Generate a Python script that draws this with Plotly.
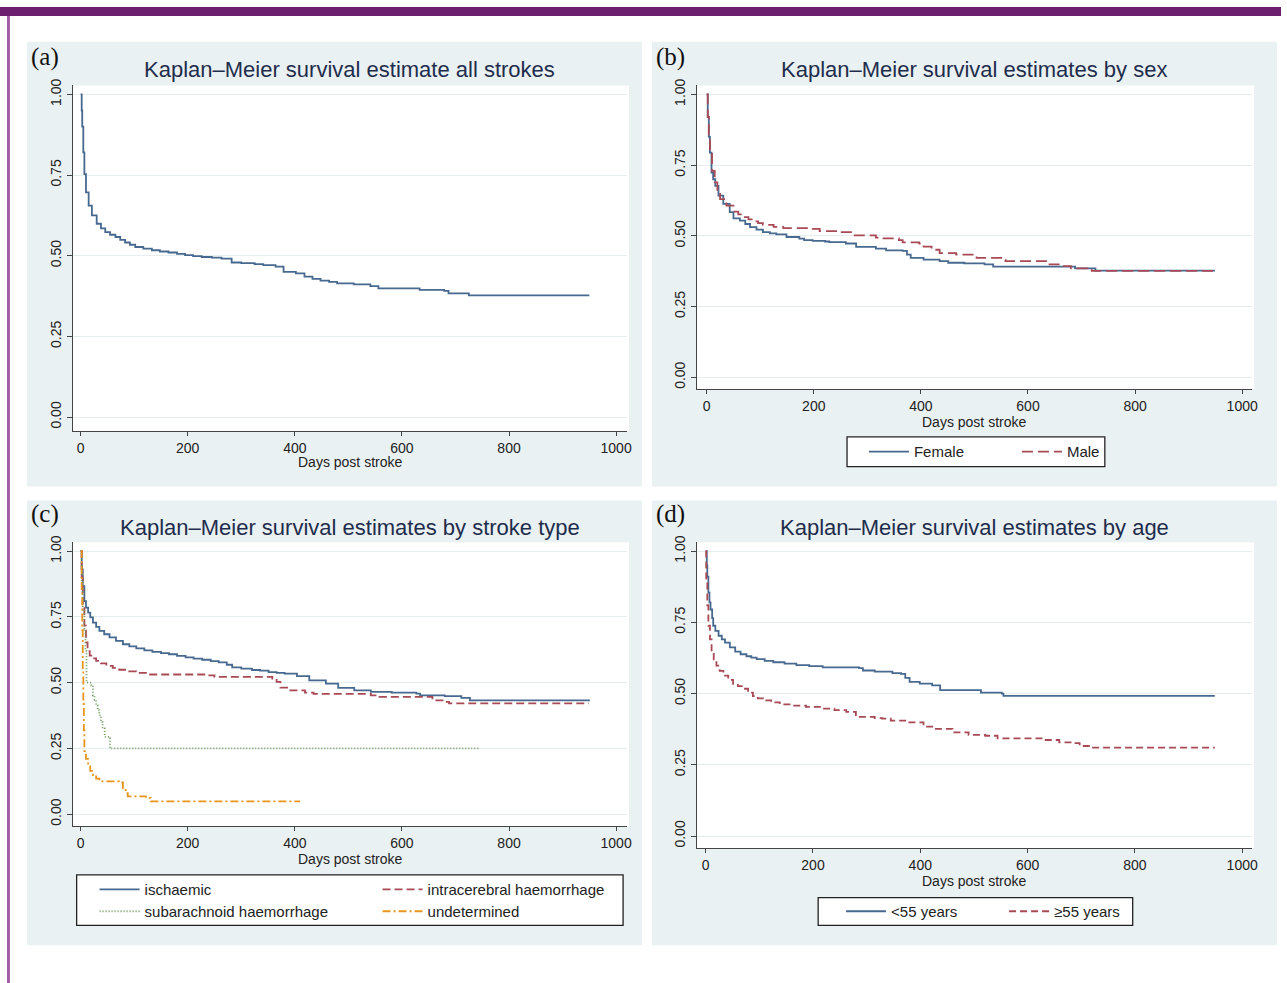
import plotly.graph_objects as go

W, H = 1287, 983

# ---------------- data (days, survival) ----------------
all_days = [0, 2, 3, 5, 7, 10, 15, 21, 30, 38, 46, 55, 65, 74, 83, 92, 102, 117, 133, 148, 164, 180, 195, 210, 226, 245, 263, 282, 300, 325, 341, 364, 379, 402, 418, 433, 448, 464, 479, 510, 541, 556, 625, 633, 679, 687, 718, 725, 950]
all_surv = [1.0, 0.95, 0.90, 0.82, 0.753, 0.696, 0.655, 0.625, 0.599, 0.585, 0.573, 0.565, 0.558, 0.549, 0.541, 0.534, 0.527, 0.522, 0.517, 0.513, 0.510, 0.506, 0.502, 0.499, 0.496, 0.494, 0.491, 0.479, 0.477, 0.474, 0.471, 0.466, 0.450, 0.445, 0.435, 0.428, 0.423, 0.419, 0.414, 0.411, 0.406, 0.399, 0.399, 0.394, 0.391, 0.383, 0.383, 0.377, 0.377]

female_days = [0, 2, 4, 6, 9, 12, 16, 22, 31, 43, 50, 62, 72, 81, 93, 105, 118, 130, 149, 173, 182, 198, 221, 229, 260, 279, 316, 335, 366, 374, 381, 405, 435, 451, 481, 519, 535, 672, 688, 718, 726, 949]
female_surv = [1.0, 0.92, 0.85, 0.794, 0.724, 0.70, 0.677, 0.642, 0.613, 0.584, 0.562, 0.554, 0.542, 0.531, 0.522, 0.513, 0.509, 0.505, 0.496, 0.490, 0.485, 0.482, 0.480, 0.478, 0.473, 0.461, 0.455, 0.449, 0.447, 0.434, 0.422, 0.416, 0.411, 0.405, 0.403, 0.399, 0.391, 0.391, 0.385, 0.385, 0.377, 0.377]

male_days = [0, 2, 4, 6, 10, 15, 20, 25, 37, 50, 59, 68, 78, 87, 96, 105, 125, 143, 198, 211, 248, 273, 316, 328, 359, 366, 397, 405, 420, 435, 466, 504, 550, 558, 627, 634, 665, 680, 711, 719, 949]
male_surv = [1.0, 0.92, 0.85, 0.79, 0.73, 0.689, 0.655, 0.63, 0.607, 0.586, 0.576, 0.566, 0.558, 0.551, 0.545, 0.539, 0.532, 0.527, 0.525, 0.517, 0.513, 0.502, 0.494, 0.491, 0.485, 0.477, 0.473, 0.462, 0.451, 0.439, 0.434, 0.422, 0.416, 0.411, 0.411, 0.399, 0.393, 0.385, 0.380, 0.376, 0.376]

isch_days = [0, 2, 4, 7, 10, 14, 18, 23, 29, 35, 44, 54, 66, 79, 91, 104, 119, 134, 150, 165, 180, 196, 211, 227, 243, 258, 273, 283, 300, 320, 335, 351, 366, 381, 404, 427, 458, 481, 511, 542, 581, 627, 634, 680, 711, 727, 951]
isch_surv = [1.0, 0.93, 0.867, 0.81, 0.785, 0.766, 0.748, 0.728, 0.712, 0.697, 0.684, 0.672, 0.659, 0.646, 0.638, 0.630, 0.623, 0.617, 0.612, 0.608, 0.602, 0.596, 0.591, 0.587, 0.582, 0.577, 0.568, 0.558, 0.553, 0.548, 0.546, 0.540, 0.537, 0.534, 0.525, 0.509, 0.496, 0.480, 0.471, 0.465, 0.462, 0.458, 0.452, 0.449, 0.442, 0.433, 0.433]

ich_days = [0, 2, 4, 7, 10, 13, 17, 22, 29, 38, 48, 60, 72, 88, 104, 128, 235, 250, 343, 358, 366, 373, 389, 419, 435, 527, 542, 558, 650, 657, 680, 688, 949]
ich_surv = [1.0, 0.90, 0.80, 0.717, 0.653, 0.62, 0.603, 0.592, 0.583, 0.573, 0.564, 0.556, 0.549, 0.543, 0.537, 0.531, 0.528, 0.522, 0.522, 0.515, 0.503, 0.481, 0.471, 0.462, 0.457, 0.457, 0.452, 0.446, 0.446, 0.433, 0.427, 0.421, 0.421]

sah_days = [0, 2, 4, 7, 9, 11, 20, 23, 26, 29, 32, 35, 38, 41, 45, 53, 55, 746]
sah_surv = [1.0, 0.88, 0.778, 0.703, 0.62, 0.50, 0.49, 0.452, 0.435, 0.413, 0.395, 0.376, 0.35, 0.326, 0.294, 0.288, 0.250, 0.250]

und_days = [0, 2, 3, 4, 5, 6, 7, 10, 14, 18, 23, 29, 35, 72, 79, 84, 88, 122, 131, 410]
und_surv = [1.0, 0.85, 0.70, 0.55, 0.42, 0.32, 0.24, 0.21, 0.187, 0.165, 0.149, 0.135, 0.125, 0.121, 0.099, 0.08, 0.068, 0.062, 0.049, 0.049]

young_days = [0, 2, 3, 5, 7, 9, 12, 14, 18, 24, 30, 36, 45, 55, 65, 76, 85, 95, 110, 126, 147, 169, 193, 218, 286, 293, 315, 348, 364, 372, 380, 399, 422, 437, 506, 513, 552, 555, 949]
young_surv = [1.0, 0.95, 0.91, 0.854, 0.82, 0.795, 0.765, 0.738, 0.72, 0.703, 0.69, 0.679, 0.662, 0.647, 0.638, 0.631, 0.626, 0.621, 0.615, 0.610, 0.605, 0.600, 0.596, 0.592, 0.589, 0.581, 0.577, 0.572, 0.569, 0.555, 0.541, 0.535, 0.529, 0.512, 0.512, 0.503, 0.500, 0.492, 0.492]

old_days = [0, 1, 3, 5, 8, 11, 15, 20, 26, 33, 42, 51, 60, 70, 79, 88, 97, 107, 122, 138, 162, 187, 218, 240, 262, 280, 315, 329, 345, 376, 406, 429, 460, 490, 521, 544, 605, 628, 659, 682, 697, 720, 949]
old_surv = [1.0, 0.90, 0.81, 0.738, 0.69, 0.645, 0.62, 0.598, 0.58, 0.563, 0.548, 0.534, 0.526, 0.517, 0.503, 0.491, 0.483, 0.476, 0.469, 0.462, 0.458, 0.453, 0.447, 0.442, 0.436, 0.418, 0.414, 0.412, 0.405, 0.399, 0.384, 0.376, 0.364, 0.355, 0.352, 0.343, 0.343, 0.337, 0.329, 0.326, 0.316, 0.310, 0.310]

x_ticks = [0, 200, 400, 600, 800, 1000]
y_ticks = [0.0, 0.25, 0.5, 0.75, 1.0]

panel_titles = ["Kaplan–Meier survival estimate all strokes",
                "Kaplan–Meier survival estimates by sex",
                "Kaplan–Meier survival estimates by stroke type",
                "Kaplan–Meier survival estimates by age"]
panel_letters = ["(a)", "(b)", "(c)", "(d)"]
x_title = "Days post stroke"

# ---------------- styling ----------------
BLUE = "#48698f"
RED = "#a84a56"
GREEN = "#6d9a5c"
ORANGE = "#e8951f"
PANEL_BG = "#eaf1f3"
GRID = "#e6edef"
AXIS = "#444444"
TXT = "#222222"
TITLE_C = "#1f2d4d"
TICKFONT = dict(family="Liberation Sans Narrow, Arial Narrow, Liberation Sans, Arial", size=14, color=TXT)


def px(x):
    return x / W


def py(y):
    return 1 - y / H


panels = [
    dict(box=(27, 35, 645, 483), ax=(73, 630), ay=(79, 427), x0=81, x1000=619, y1=88, y0=413),
    dict(box=(655, 35, 1283, 483), ax=(700, 1258), ay=(79, 385), x0=710, x1000=1248, y1=88, y0=373),
    dict(box=(27, 497, 645, 945), ax=(73, 630), ay=(539, 825), x0=81, x1000=619, y1=548, y0=813),
    dict(box=(655, 497, 1283, 945), ax=(700, 1258), ay=(539, 847), x0=709, x1000=1248, y1=548, y0=835),
]

fig = go.Figure()

shapes = []
annotations = []
shapes.append(dict(type="rect", xref="paper", yref="paper", x0=0, x1=1, y0=py(9), y1=1,
                   fillcolor="#6b1f6e", line=dict(width=0), layer="below"))
shapes.append(dict(type="rect", xref="paper", yref="paper", x0=px(7), x1=px(10), y0=0, y1=py(9),
                   fillcolor="#a25ea3", line=dict(width=0), layer="below"))

for i, p in enumerate(panels):
    bx0, by0, bx1, by1 = p["box"]
    shapes.append(dict(type="rect", xref="paper", yref="paper", x0=px(bx0), x1=px(bx1),
                       y0=py(by1), y1=py(by0), fillcolor=PANEL_BG, line=dict(width=0), layer="below"))
    ax0, ax1 = p["ax"]
    ay0, ay1 = p["ay"]
    shapes.append(dict(type="rect", xref="paper", yref="paper", x0=px(ax0), x1=px(ax1 + 2),
                       y0=py(ay1), y1=py(ay0), fillcolor="white", line=dict(width=0), layer="below"))
    sx = (p["x1000"] - p["x0"]) / 1000.0
    xr = [-(p["x0"] - ax0) / sx, (ax1 - p["x0"]) / sx]
    sy = (p["y0"] - p["y1"])
    yr = [-(ay1 - p["y0"]) / sy, 1 + (p["y1"] - ay0) / sy]
    n = "" if i == 0 else str(i + 1)
    fig.layout["xaxis" + n] = dict(domain=[px(ax0), px(ax1)], range=xr, anchor="y" + n,
                                    tickvals=x_ticks, ticks="outside", ticklen=4, tickcolor=AXIS,
                                    showline=True, linecolor=AXIS, linewidth=1.3, showgrid=False,
                                    zeroline=False, tickfont=TICKFONT, fixedrange=True)
    fig.layout["yaxis" + n] = dict(domain=[py(ay1), py(ay0)], range=yr, anchor="x" + n,
                                    tickvals=y_ticks, tickformat=".2f", tickangle=-90, ticks="outside",
                                    ticklen=5, tickcolor=AXIS, showline=True, linecolor=AXIS,
                                    linewidth=1.3, showgrid=True, gridcolor=GRID, gridwidth=1.2,
                                    zeroline=False, tickfont=TICKFONT, fixedrange=True)
    cx = (ax0 + ax1) / 2
    title_y = 63 if i < 2 else 524
    annotations.append(dict(text=panel_titles[i], x=px(cx), y=py(title_y), xref="paper", yref="paper",
                            showarrow=False, xanchor="center", yanchor="middle",
                            font=dict(family="Liberation Sans, Arial", size=22, color=TITLE_C)))
    annotations.append(dict(text=panel_letters[i], x=px(bx0 + 2), y=py(title_y - 13), xref="paper",
                            yref="paper", showarrow=False, xanchor="left", yanchor="middle",
                            font=dict(family="Liberation Serif, Times New Roman", size=25, color="#111111")))
    xt_y = {0: 458, 1: 418, 2: 858, 3: 880}[i]
    annotations.append(dict(text=x_title, x=px(cx), y=py(xt_y), xref="paper", yref="paper",
                            showarrow=False, xanchor="center", yanchor="middle", font=TICKFONT))

LW = 1.8
fig.add_trace(go.Scatter(x=all_days, y=all_surv, mode="lines", line=dict(color=BLUE, width=LW, shape="hv"),
                         xaxis="x", yaxis="y", showlegend=False))
fig.add_trace(go.Scatter(x=female_days, y=female_surv, mode="lines", name="Female",
                         line=dict(color=BLUE, width=LW, shape="hv"), xaxis="x2", yaxis="y2", legend="legend"))
fig.add_trace(go.Scatter(x=male_days, y=male_surv, mode="lines", name="Male",
                         line=dict(color=RED, width=LW, shape="hv", dash="11px,5px"), xaxis="x2", yaxis="y2",
                         legend="legend"))
fig.add_trace(go.Scatter(x=isch_days, y=isch_surv, mode="lines", name="ischaemic",
                         line=dict(color=BLUE, width=LW, shape="hv"), xaxis="x3", yaxis="y3", legend="legend2"))
fig.add_trace(go.Scatter(x=ich_days, y=ich_surv, mode="lines", name="intracerebral haemorrhage",
                         line=dict(color=RED, width=LW, shape="hv", dash="8px,4px"), xaxis="x3", yaxis="y3",
                         legend="legend2"))
fig.add_trace(go.Scatter(x=sah_days, y=sah_surv, mode="lines", name="subarachnoid haemorrhage",
                         line=dict(color=GREEN, width=LW, shape="hv", dash="1px,2px"), xaxis="x3", yaxis="y3",
                         legend="legend3"))
fig.add_trace(go.Scatter(x=und_days, y=und_surv, mode="lines", name="undetermined",
                         line=dict(color=ORANGE, width=LW, shape="hv", dash="8px,3px,2px,3px"), xaxis="x3",
                         yaxis="y3", legend="legend3"))
fig.add_trace(go.Scatter(x=young_days, y=young_surv, mode="lines", name="<55 years",
                         line=dict(color=BLUE, width=LW, shape="hv"), xaxis="x4", yaxis="y4", legend="legend4"))
fig.add_trace(go.Scatter(x=old_days, y=old_surv, mode="lines", name="≥55 years",
                         line=dict(color=RED, width=LW, shape="hv", dash="7px,4px"), xaxis="x4", yaxis="y4",
                         legend="legend4"))

for (x0, y0, x1, y1) in [(851, 433, 1110, 463), (77, 874, 626, 925), (822, 897, 1138, 925)]:
    shapes.append(dict(type="rect", xref="paper", yref="paper", x0=px(x0), x1=px(x1), y0=py(y1), y1=py(y0),
                       fillcolor="white", line=dict(color="#222222", width=1.3), layer="below"))

LEGFONT = dict(family="Liberation Sans Narrow, Arial Narrow, Liberation Sans, Arial", size=15, color=TXT)
leg_common = dict(orientation="h", bgcolor="rgba(0,0,0,0)", borderwidth=0, font=LEGFONT,
                  xanchor="left", yanchor="middle", itemclick=False, itemdoubleclick=False,
                  tracegroupgap=0, itemwidth=40)

fig.update_layout(
    width=W, height=H, margin=dict(l=0, r=0, t=0, b=0),
    paper_bgcolor="white", plot_bgcolor="white",
    shapes=shapes, annotations=annotations,
    legend=dict(x=px(868), y=py(448), entrywidth=98, **leg_common),
    legend2=dict(x=px(95), y=py(889), entrywidth=228, **leg_common),
    legend3=dict(x=px(95), y=py(911), entrywidth=228, **leg_common),
    legend4=dict(x=px(845), y=py(911), entrywidth=108, **leg_common),
)

fig.write_html(
    "out.html",
    config={"displayModeBar": False},
    post_script=(
        "document.documentElement.style.margin='0';document.body.style.margin='0';"
        "document.body.style.padding='0';document.documentElement.style.overflow='hidden';"
        "var gd=document.getElementById('{plot_id}');gd.style.position='fixed';"
        "gd.style.top='0px';gd.style.left='0px';"
    ),
)
